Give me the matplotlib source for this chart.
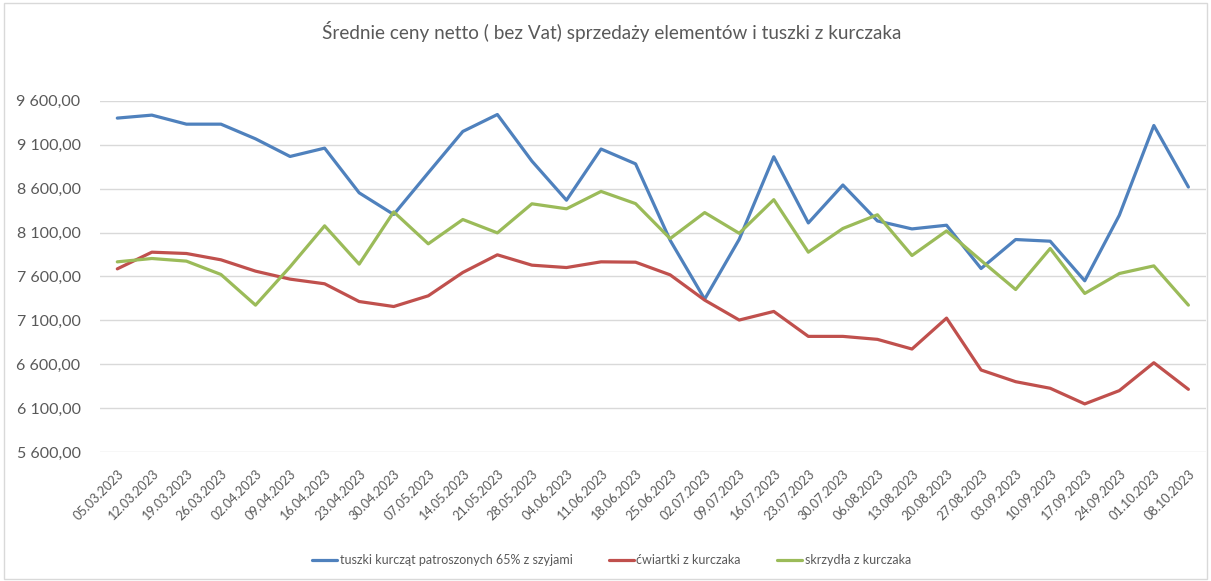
"""
Średnie ceny netto (bez VAT) – tuszki, ćwiartki i skrzydła z kurczaka.
Weekly prices, March – October 2023.
"""

import matplotlib
matplotlib.use("Agg")  # no display
import matplotlib.pyplot as plt
from matplotlib.patches import Rectangle
from matplotlib.ticker import FuncFormatter

plt.rcParams["font.family"] = ["Lato", "DejaVu Sans"]

# ──────────────────────────────────────────────────────────────────────────────
# Data
# ──────────────────────────────────────────────────────────────────────────────
weeks = [
    "05.03.2023", "12.03.2023", "19.03.2023", "26.03.2023", "02.04.2023",
    "09.04.2023", "16.04.2023", "23.04.2023", "30.04.2023", "07.05.2023",
    "14.05.2023", "21.05.2023", "28.05.2023", "04.06.2023", "11.06.2023",
    "18.06.2023", "25.06.2023", "02.07.2023", "09.07.2023", "16.07.2023",
    "23.07.2023", "30.07.2023", "06.08.2023", "13.08.2023", "20.08.2023",
    "27.08.2023", "03.09.2023", "10.09.2023", "17.09.2023", "24.09.2023",
    "01.10.2023", "08.10.2023",
]

tuszki = [
    9403, 9437, 9334, 9334, 9167, 8966, 9061, 8552, 8305, 8780,
    9251, 9444, 8913, 8468, 9051, 8882, 8012, 7341, 8023, 8963,
    8209, 8641, 8232, 8141, 8183, 7690, 8020, 8001, 7550, 8296,
    9319, 8618,
]

cwiartki = [
    7686, 7876, 7861, 7789, 7660, 7569, 7516, 7314, 7257, 7379,
    7645, 7846, 7728, 7701, 7766, 7762, 7618, 7330, 7103, 7201,
    6917, 6917, 6883, 6773, 7125, 6534, 6401, 6326, 6148, 6299,
    6617, 6314,
]

skrzydla = [
    7766, 7804, 7774, 7622, 7273, 7709, 8176, 7740, 8335, 7971,
    8248, 8096, 8427, 8370, 8568, 8429, 8031, 8327, 8091, 8474,
    7876, 8146, 8302, 7838, 8118, 7781, 7451, 7918, 7406, 7633,
    7720, 7273,
]

y_ticks = [5600, 6100, 6600, 7100, 7600, 8100, 8600, 9100, 9600]

series_labels = [
    "tuszki kurcząt patroszonych 65% z szyjami",
    "ćwiartki z kurczaka",
    "skrzydła z kurczaka",
]

TITLE = "Średnie ceny netto ( bez Vat) sprzedaży elementów i tuszki z kurczaka"


def pl_number(val, _pos=None):
    """9600 -> '9 600,00' (Polish style)."""
    return f"{val:,.2f}".replace(",", " ").replace(".", ",")


# ──────────────────────────────────────────────────────────────────────────────
# Plot
# ──────────────────────────────────────────────────────────────────────────────
fig = plt.figure(figsize=(12.11, 5.81), dpi=100)
ax = fig.add_axes([0.0826, 0.222, 0.913, 0.6045])

x = range(len(weeks))
colors = ["#4F81BD", "#C0504D", "#9BBB59"]
for vals, label, color in zip([tuszki, cwiartki, skrzydla], series_labels, colors):
    ax.plot(x, vals, color=color, linewidth=2.3, label=label,
            solid_joinstyle="round", solid_capstyle="round")

ax.set_xlim(-0.5, len(weeks) - 0.5)
ax.set_ylim(y_ticks[0], y_ticks[-1])
ax.set_yticks(y_ticks)
ax.yaxis.set_major_formatter(FuncFormatter(pl_number))
ax.grid(axis="y", color="#d9d9d9", linewidth=1.0)
ax.set_axisbelow(True)

ax.set_xticks(list(x))
ax.set_xticklabels(weeks, rotation=45, ha="right", rotation_mode="anchor")
ax.tick_params(axis="x", length=0, pad=11, labelsize=9.2, labelcolor="#595959")
ax.tick_params(axis="y", length=0, pad=14, labelsize=11.5, labelcolor="#595959")

for spine in ax.spines.values():
    spine.set_visible(False)

fig.text(0.505, 0.945, TITLE, ha="center", va="center",
         fontsize=13.6, color="#595959")

fig.legend(loc="center", bbox_to_anchor=(0.505, 0.036), ncol=3, frameon=False,
           fontsize=9, labelcolor="#595959", handlelength=2.0,
           handletextpad=0.2, columnspacing=2.9)

# thin chart border like the spreadsheet frame
fig.patches.append(Rectangle((0.003, 0.004), 0.994, 0.99, transform=fig.transFigure,
                             fill=False, edgecolor="#d9d9d9", linewidth=1.0))

fig.savefig("out.png", dpi=100)
plt.close(fig)
